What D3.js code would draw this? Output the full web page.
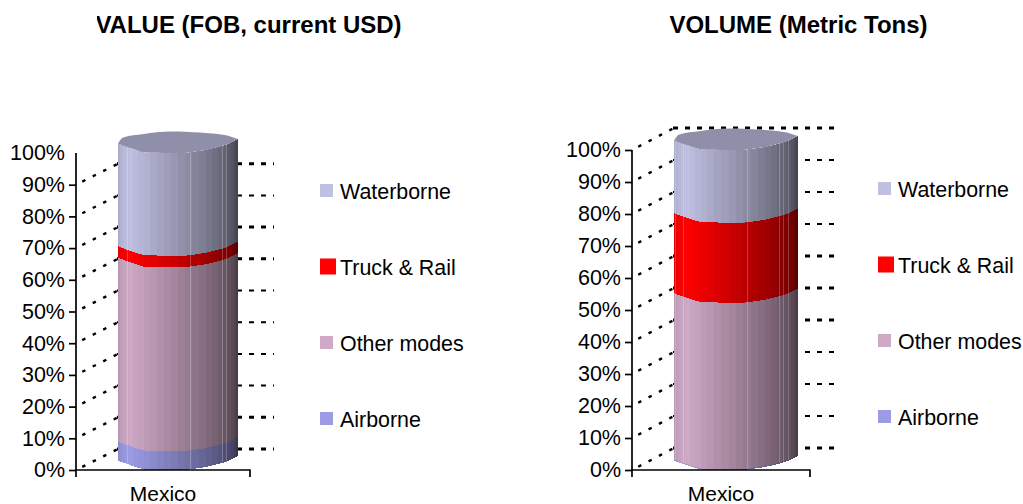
<!DOCTYPE html>
<html><head><meta charset="utf-8">
<script src="https://cdn.jsdelivr.net/npm/d3@7"></script>
<style>html,body{margin:0;padding:0;background:#fff}svg{display:block}text{font-family:"Liberation Sans",Arial,sans-serif;fill:#000}</style>
</head><body><svg id="c" width="1023" height="504"></svg>
<script>
const categories = ["Mexico"];
const modes = ["Airborne","Other modes","Truck & Rail","Waterborne"];
const modeColors = ["#9c9ce6","#cfa9c6","#ff0000","#c0c0e2"];
const valueShares = [6, 58, 3.6, 32.4];
const volumeShares = [0.3, 52, 25, 22.7];
const tickValues = [0,10,20,30,40,50,60,70,80,90,100];
const titles = ["VALUE (FOB, current USD)","VOLUME (Metric Tons)"];

const svg = d3.select("#c");
const facetCount = 26;
// outline of the lumpy cylinder cross-section
const frontEdge = d3.scaleLinear().domain([0,.05,.1,.21,.4,.57,.74,.9,1]).range([-9.5,-7,-5,-.5,0,0,-3,-8,-14]);
const backEdge = d3.scaleLinear().domain([0,.03,.1,.22,.3,.42,.52,.75,.9,1]).range([-9.5,-15,-17.5,-19,-20.5,-21.5,-21.5,-20,-18,-14]);
function shade(c,t){
  const k = t<0.2 ? 0.86+0.14*t/0.2 : 1-0.7*Math.pow((t-0.2)/0.8,1.15);
  const r=d3.rgb(c); return d3.rgb(r.r*k,r.g*k,r.b*k).formatHex();
}
function drawChart(o){
  const g = svg.append("g");
  const y = d3.scaleLinear().domain([0,100]).range([o.y0,o.y100]);
  const x = d3.scaleBand().domain(categories).range([o.ax,o.ax2]);
  const clip = "clip"+o.id;
  svg.append("defs").append("clipPath").attr("id",clip).append("rect").attr("x",0).attr("y",o.clipTop).attr("width",1023).attr("height",504);
  const grid = g.append("g").attr("clip-path",`url(#${clip})`);
  const dx=o.depthX, dy=o.depthY;
  tickValues.forEach((v,i)=>{
    grid.append("line").attr("x1",o.ax).attr("y1",y(v)).attr("x2",o.ax+dx).attr("y2",y(v)+dy)
      .attr("stroke","#000").attr("stroke-width",2.4).attr("stroke-dasharray","3.5 8.2").attr("stroke-dashoffset",-7);
    grid.append("line").attr("x1",o.ax+dx-1).attr("y1",y(v)+dy).attr("x2",o.wallEnd).attr("y2",y(v)+dy)
      .attr("stroke","#000").attr("stroke-width",o.heavy.includes(v)?3:2).attr("stroke-dasharray","5 7");
  });
  const cx = x(categories[0])+x.bandwidth()/2+o.cxShift, rx=o.rx;
  const facets = d3.range(facetCount+1).map(i=>{
    const px = cx-rx*Math.cos(Math.PI*i/facetCount);
    const t = (px-(cx-rx))/(2*rx);
    return {x:px,t,f:frontEdge(t),b:backEdge(t)};
  });
  let cum=0; const bands=[];
  o.shares.forEach((s,i)=>{bands.push({i,from:cum,to:cum+s}); cum+=s;});
  const cyl = g.append("g").attr("shape-rendering","crispEdges");
  bands.forEach(b=>{
    d3.range(facetCount).forEach(k=>{
      const p=facets[k], q=facets[k+1];
      cyl.append("path").attr("fill",shade(modeColors[b.i],(k+.5)/facetCount))
        .attr("d",`M${p.x},${y(b.to)+p.f}L${q.x},${y(b.to)+q.f}L${q.x},${y(b.from)+q.f}L${p.x},${y(b.from)+p.f}Z`);
    });
  });
  // faint seams between facets
  o.seams.forEach(t=>{
    const px=cx-rx+2*rx*t;
    bands.forEach(b=>{
      if(b.to-b.from<1) return;
      cyl.append("line").attr("x1",px).attr("x2",px)
        .attr("y1",y(b.to)+frontEdge(t)).attr("y2",y(b.from)+frontEdge(t))
        .attr("stroke","#fff").attr("stroke-opacity",.22).attr("stroke-width",1);
    });
  });
  // top cap
  const capF = facets.map(f=>[f.x,y(100)+f.f]);
  const capB = facets.slice().reverse().map(f=>[f.x,y(100)+f.b]);
  g.append("path").attr("d",d3.line()(capF.concat(capB))+"Z").attr("fill","#8f8fa9");
  // y axis
  const axisL = d3.axisLeft(y).tickValues(tickValues).tickFormat(d=>d+"%").tickSize(7).tickPadding(4);
  const ag = svg.append("g").attr("transform",`translate(${o.ax},0)`).call(axisL);
  ag.selectAll("path,line").attr("stroke","#000").attr("stroke-width",1.7);
  ag.select(".domain").attr("d",`M0,${o.y100}V${o.y0}`);
  if(!o.topTick) ag.selectAll(".tick").filter(d=>d===100).select("line").remove();
  ag.selectAll("text").attr("font-size",21.5).attr("font-family","Liberation Sans");
  const axisB = d3.axisBottom(x).tickSize(0).tickPadding(16);
  const bg = svg.append("g").attr("transform",`translate(0,${o.y0})`).call(axisB);
  bg.select(".domain").attr("d",`M${o.ax},7V0H${o.ax2}V7`).attr("stroke","#000").attr("stroke-width",1.7);
  bg.selectAll("text").attr("font-size",21).attr("font-family","Liberation Sans");
  // legend
  const ly = d3.scalePoint().domain(modes.slice().reverse()).range([o.legendTop,o.legendTop+228]);
  modes.forEach((m,i)=>{
    const s = i===2?16:13;
    svg.append("rect").attr("x",o.lx).attr("y",ly(m)-s/2).attr("width",s).attr("height",s).attr("fill",modeColors[i]);
    svg.append("text").attr("x",o.lx+20).attr("y",ly(m)+8).attr("font-size",21.4).text(m);
  });
  svg.append("text").attr("x",o.tx).attr("y",33).attr("text-anchor","middle").attr("font-size",24).attr("font-weight","bold").text(o.title);
}
drawChart({id:1,ax:76,ax2:250,y0:470,y100:153,depthX:42,depthY:-21,wallEnd:274,clipTop:158,cxShift:15,rx:60,shares:valueShares,lx:320,legendTop:190.5,topTick:false,heavy:[90,70,60,10,0],seams:[.083,.6,.87,.9],title:titles[0],tx:248.5});
drawChart({id:2,ax:632,ax2:810,y0:470,y100:150,depthX:42,depthY:-22,wallEnd:841,clipTop:120,cxShift:15,rx:62,shares:volumeShares,lx:878,legendTop:188.5,topTick:true,heavy:[100,60,50,40,0],seams:[.015,.08,.59,.85,.88,.92],title:titles[1],tx:798.5});
svg.append("rect").attr("x",86).attr("y",10).attr("width",11).attr("height",30).attr("fill","#fff");
</script></body></html>
